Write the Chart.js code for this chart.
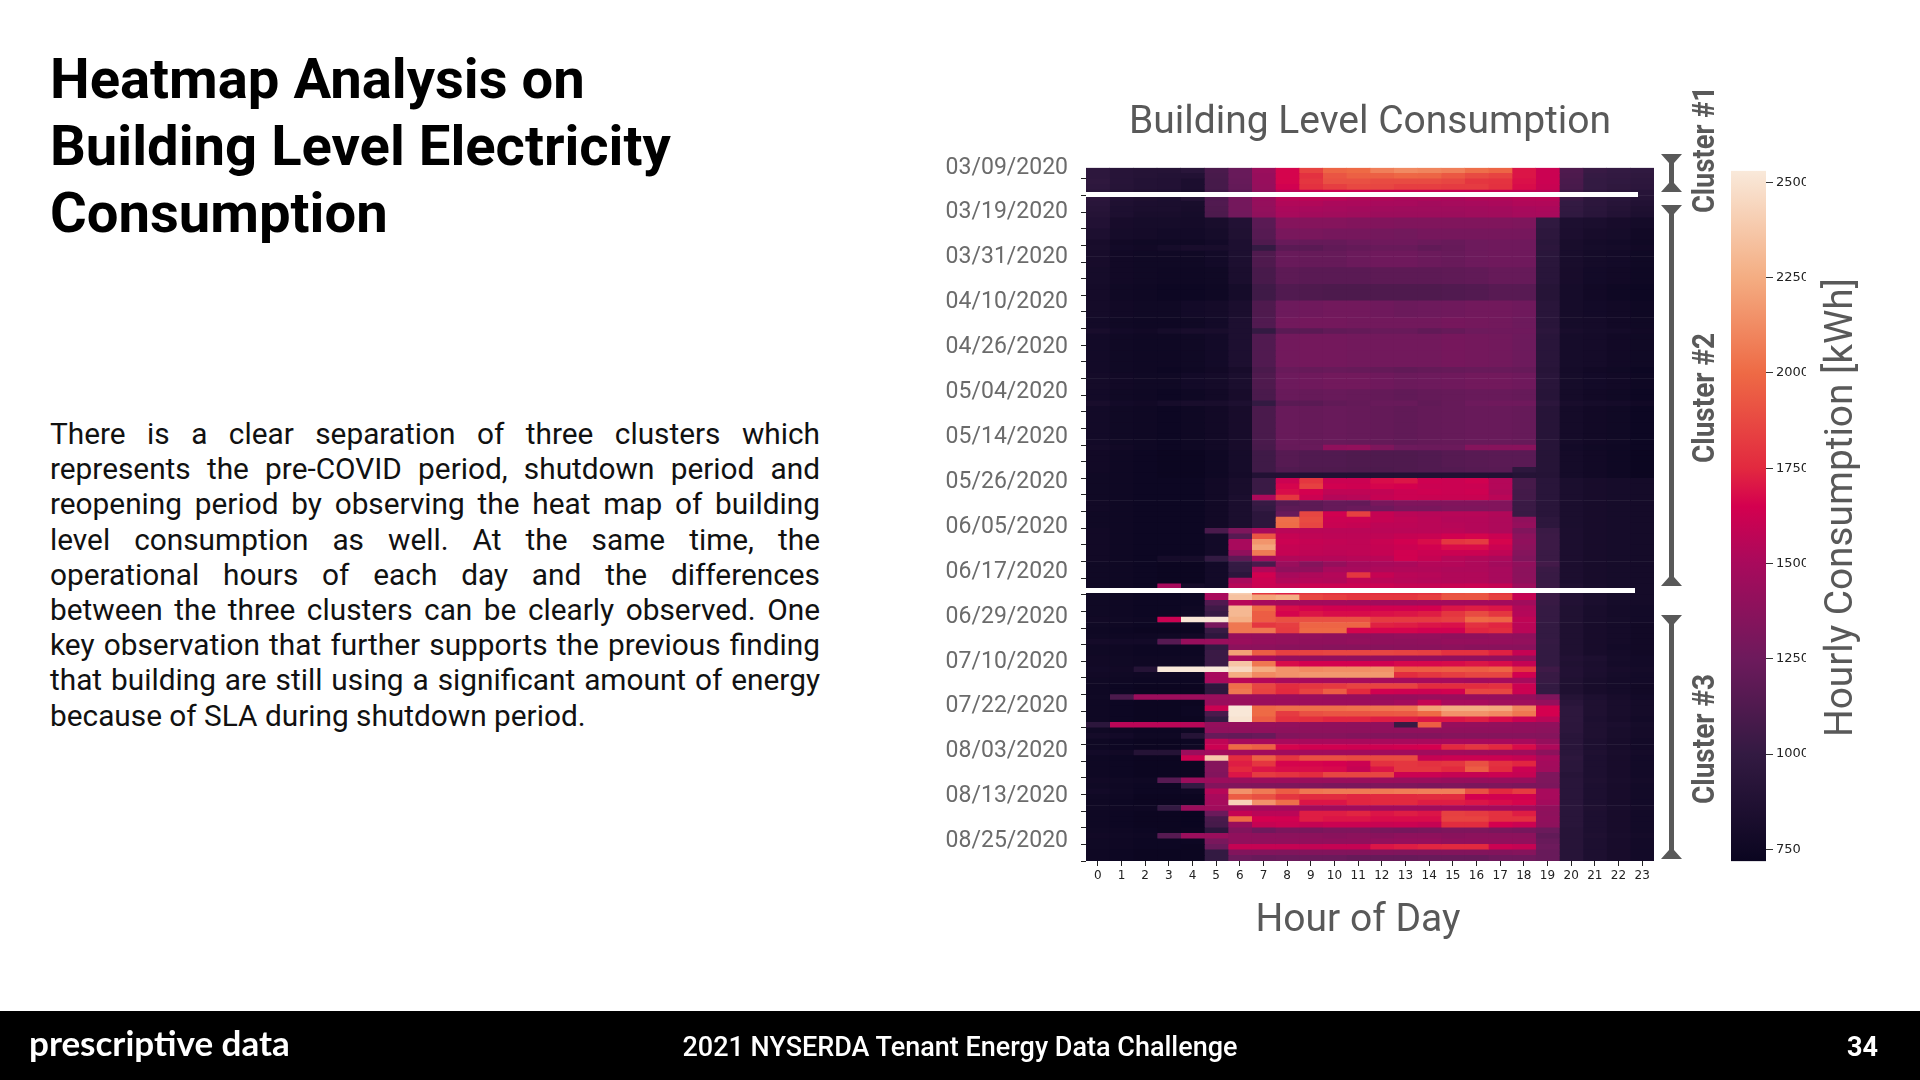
<!DOCTYPE html>
<html>
<head>
<meta charset="utf-8">
<title>Heatmap Analysis on Building Level Electricity Consumption</title>
<script src="https://cdn.jsdelivr.net/npm/chart.js@4"></script>
<style>
  html, body { margin: 0; padding: 0; background: #fff; }
  #slide { position: relative; width: 1920px; height: 1080px; overflow: hidden; font-family: Roboto, sans-serif; }
  #heading { position: absolute; left: 50px; top: 46px; font-size: 56.2px; font-weight: 700; line-height: 67px; color: #000; }
  #body { position: absolute; left: 50px; top: 416px; width: 770px; font-size: 29.8px; line-height: 35.2px; color: #111; }
  #body div { text-align: justify; text-align-last: justify; }
  #body div:last-child { text-align-last: left; }
  #footer { position: absolute; left: 0; top: 1011px; width: 1920px; height: 69px; background: #000; color: #fff; }
  #logo { position: absolute; left: 29px; top: 10px; font-family: Lato, sans-serif; font-size: 35px; font-weight: 700; }
  #event { position: absolute; left: 0; width: 1920px; top: 20px; text-align: center; font-size: 27px; font-weight: 500; }
  #page { position: absolute; left: 1847px; top: 20px; font-size: 27px; font-weight: 700; }
  #heatChart { position: absolute; left: 930px; top: 90px; filter: blur(0.5px); }
  #barChart { position: absolute; left: 1725px; top: 160px; }
  #notes { position: absolute; left: 0; top: 0; }
  #notes text { font-family: Roboto, sans-serif; fill: #595959; }
</style>
</head>
<body>
<div id="slide">
  <div id="heading">Heatmap Analysis on<br>Building Level Electricity<br>Consumption</div>
  <div id="body">
    <div>There is a clear separation of three clusters which</div>
    <div>represents the pre-COVID period, shutdown period and</div>
    <div>reopening period by observing the heat map of building</div>
    <div>level consumption as well. At the same time, the</div>
    <div>operational hours of each day and the differences</div>
    <div>between the three clusters can be clearly observed. One</div>
    <div>key observation that further supports the previous finding</div>
    <div>that building are still using a significant amount of energy</div>
    <div>because of SLA during shutdown period.</div>
  </div>
  <canvas id="heatChart" width="760" height="860"></canvas>
  <canvas id="barChart" width="81" height="712"></canvas>
  <svg id="notes" width="1920" height="1080">
    <rect x="1086" y="192" width="552" height="5" fill="#fff"/>
    <rect x="1086" y="588" width="549" height="5" fill="#fff"/>
    <g fill="#595959">
      <path d="M1661 154H1682L1674 163V183L1682 192H1661L1669 183V163Z"/>
      <path d="M1661 205H1682L1674 214V577L1682 586H1661L1669 577V214Z"/>
      <path d="M1661 615H1682L1674 624V850L1682 859H1661L1669 850V624Z"/>
    </g>
    <text transform="translate(1714,213) rotate(-90)" font-size="31" font-weight="700" textLength="127" lengthAdjust="spacingAndGlyphs">Cluster #1</text>
    <text transform="translate(1714,463) rotate(-90)" font-size="31" font-weight="700" textLength="130" lengthAdjust="spacingAndGlyphs">Cluster #2</text>
    <text transform="translate(1714,804) rotate(-90)" font-size="31" font-weight="700" textLength="130" lengthAdjust="spacingAndGlyphs">Cluster #3</text>
    <text transform="translate(1852,737) rotate(-90)" font-size="39" textLength="459" lengthAdjust="spacingAndGlyphs">Hourly Consumption [kWh]</text>
    <text x="1358" y="931" font-size="39" text-anchor="middle">Hour of Day</text>
  </svg>
  <div id="footer">
    <div id="logo">prescriptive data</div>
    <div id="event">2021 NYSERDA Tenant Energy Data Challenge</div>
    <div id="page">34</div>
  </div>
</div>
<script>
// dates pasted next to the heatmap, one label every 8 rows
const dateLabels = ["03/09/2020", "03/19/2020", "03/31/2020", "04/10/2020", "04/26/2020", "05/04/2020", "05/14/2020", "05/26/2020",
  "06/05/2020", "06/17/2020", "06/29/2020", "07/10/2020", "07/22/2020", "08/03/2020", "08/13/2020", "08/25/2020"];
const hourLabels = ["0","1","2","3","4","5","6","7","8","9","10","11","12","13","14","15","16","17","18","19","20","21","22","23"];
const colorbarTicks = [750, 1000, 1250, 1500, 1750, 2000, 2250, 2500];
const colorbarRange = [719, 2530];

// colour map
const cmapValues = [719, 750, 1000, 1250, 1500, 1650, 1750, 2000, 2250, 2530];
const cmapColors = ["#0a0520", "#0f0824", "#331a42", "#6d1a5c", "#a80a5c", "#d4004f", "#e2293f", "#ee6a45", "#f4ad82", "#f9e9da"];

// repeated rows of the shutdown period, kWh per hour 0..23
const shutBright = [880,810,800,800,790,820,880,1170,1350,1350,1350,1340,1340,1330,1330,1330,1330,1330,1320,980,850,830,810,790];
const shutHigh   = [850,800,790,780,780,800,870,1150,1300,1300,1290,1290,1280,1270,1290,1290,1290,1290,1290,960,840,810,800,770];
const shutDark   = [820,780,770,800,820,820,850,1000,1170,1170,1200,1210,1230,1230,1200,1220,1250,1260,1260,950,820,800,790,770];
const shutMid    = [810,770,760,760,760,780,850,1120,1230,1220,1220,1240,1260,1260,1240,1230,1250,1260,1260,940,820,790,780,760];
const shutDim    = [800,770,760,750,750,760,830,1090,1180,1170,1170,1170,1180,1180,1180,1190,1200,1220,1220,930,810,780,770,750];
const shutDimmer = [790,760,750,740,740,750,800,1050,1130,1120,1110,1110,1120,1120,1120,1130,1140,1160,1160,910,800,770,750,740];
const shutPlain  = [790,770,760,760,780,790,830,1120,1250,1260,1270,1270,1260,1240,1250,1260,1270,1270,1260,930,800,780,770,750];
const shutPlain2 = [780,760,750,750,760,780,850,1130,1270,1280,1280,1270,1270,1270,1270,1290,1280,1270,1250,930,800,790,770,760];
const shutSoft   = [780,760,750,740,750,770,810,1100,1230,1220,1230,1220,1210,1200,1210,1220,1230,1230,1220,920,790,770,760,740];
const shutBand   = [790,770,750,740,750,770,810,1090,1220,1230,1400,1410,1320,1250,1240,1240,1350,1360,1370,920,780,760,750,740];
const shutLate   = [770,750,740,730,730,750,800,1050,1150,1130,1130,1120,1120,1120,1130,1150,1160,1170,1170,910,790,770,750,730];
const shutLateEnd = [770,750,740,730,730,750,800,1050,1130,1120,1120,1110,1110,1120,1130,1140,1150,1160,960,910,790,770,750,730];
const shutGap    = [760,750,740,730,730,750,790,880,880,880,880,880,880,880,880,880,880,880,900,900,790,770,750,730];

// one line per day, top to bottom
const heatRows = [
  [960,920,900,900,930,1100,1230,1440,1660,1850,1980,2000,2080,2120,2100,2080,2020,1980,1700,1620,1120,1020,1000,980],
  [960,920,900,890,880,1090,1230,1430,1660,1780,1920,1960,1960,1990,1980,1930,1880,1850,1700,1620,1110,1010,990,970],
  [970,920,890,880,840,1080,1220,1430,1660,1800,1900,1900,1880,1880,1880,1860,1800,1790,1690,1620,1100,1000,980,960],
  [960,910,890,880,840,1080,1210,1420,1640,1780,1830,1870,1860,1830,1830,1820,1820,1780,1680,1610,1090,1000,970,950],
  [940,900,870,860,820,1060,1180,1400,1560,1600,1620,1620,1600,1600,1600,1600,1600,1600,1580,1560,1050,980,950,920],
  [950,880,860,850,900,1130,1290,1430,1560,1570,1560,1530,1530,1510,1520,1510,1530,1530,1550,1560,1030,960,940,900],
  [930,860,840,830,820,1130,1280,1420,1530,1530,1510,1510,1500,1500,1480,1490,1500,1510,1530,1530,1000,950,920,880],
  [920,850,830,830,810,1120,1280,1410,1510,1500,1490,1480,1470,1460,1460,1460,1470,1480,1500,1510,990,940,900,860],
  [900,850,820,820,800,1110,1270,1400,1500,1480,1470,1460,1450,1450,1450,1450,1460,1470,1490,1500,980,930,890,850],
  shutBright, shutBright, shutHigh, shutHigh, shutMid, shutDark, shutMid, shutMid, shutMid, shutDim, shutDim, shutDim,
  shutDimmer, shutDimmer, shutDimmer, shutPlain, shutPlain, shutPlain, shutPlain2, shutPlain2, shutDark, shutPlain2, shutPlain2, shutPlain2,
  shutPlain2, shutPlain2, shutPlain2, shutSoft, shutPlain, shutPlain, shutPlain, shutSoft, shutSoft, shutDark, shutSoft, shutSoft,
  shutSoft, shutSoft, shutSoft, shutSoft, shutSoft, shutBand, shutLate, shutLate, shutLate, shutLateEnd, shutGap,
  [760,750,740,740,740,770,820,1030,1620,1800,1620,1620,1680,1700,1630,1620,1640,1540,1080,930,830,810,800,790],
  [760,750,740,740,740,770,820,1030,1660,1840,1640,1630,1660,1650,1620,1620,1620,1540,1080,930,830,810,800,790],
  [760,750,740,740,740,770,820,1030,1680,1650,1580,1580,1590,1620,1630,1620,1630,1530,1070,930,830,810,800,790],
  [760,750,740,740,740,770,830,1520,1800,1620,1540,1550,1600,1620,1610,1610,1610,1560,1070,930,830,810,800,790],
  [770,750,740,740,740,770,830,1020,1150,1180,1220,1210,1300,1330,1330,1340,1340,1340,1030,930,830,810,800,790],
  [770,750,740,740,740,770,830,1000,1180,1180,1220,1240,1260,1300,1300,1320,1320,1340,1030,930,830,810,800,790],
  [760,750,740,740,740,770,830,950,1230,1860,1640,1840,1600,1560,1550,1550,1550,1530,1020,930,830,810,800,790],
  [760,750,740,740,740,770,830,950,2020,1880,1620,1620,1600,1580,1560,1540,1540,1520,1400,960,830,810,800,790],
  [760,750,740,740,740,770,830,950,2010,1860,1610,1600,1570,1570,1560,1550,1540,1520,1420,960,830,810,800,790],
  [770,750,740,740,740,1100,1320,1500,1560,1560,1560,1560,1560,1560,1560,1560,1540,1520,1330,1030,840,810,800,790],
  [770,750,740,740,740,780,1150,1920,1600,1580,1570,1570,1580,1600,1610,1640,1660,1620,1380,1040,840,810,800,790],
  [770,750,740,740,740,780,1500,2160,1620,1600,1590,1580,1610,1640,1680,1800,1820,1660,1400,1040,840,810,800,790],
  [770,750,740,740,740,780,1500,2220,1600,1590,1580,1580,1600,1620,1640,1680,1680,1620,1380,1040,840,810,800,790],
  [770,750,740,740,740,780,1400,2060,1600,1580,1570,1580,1600,1640,1620,1620,1620,1580,1350,1030,840,810,800,790],
  [770,750,740,800,800,1000,1180,1480,1530,1540,1540,1550,1560,1640,1600,1550,1530,1510,1330,1030,840,810,800,790],
  [760,750,740,730,730,780,1010,1100,1440,1350,1420,1480,1500,1510,1540,1540,1520,1480,1400,1070,840,810,800,790],
  [760,750,740,730,730,780,1000,1530,1400,1400,1500,1500,1520,1530,1530,1520,1520,1500,1380,1030,840,810,800,790],
  [760,750,740,730,730,780,950,1640,1500,1520,1540,1800,1600,1560,1550,1530,1530,1500,1380,1020,840,810,800,790],
  [760,750,740,730,730,780,1500,1620,1530,1540,1530,1580,1560,1550,1540,1530,1530,1500,1390,1020,840,810,800,790],
  [760,750,740,1500,800,780,1550,1620,1600,1620,1620,1620,1620,1600,1600,1610,1620,1600,1450,1030,860,820,800,790],
  [760,750,740,740,750,1500,2400,1800,1720,1800,1780,1780,1760,1760,1780,1900,1920,1800,1580,1030,880,830,800,790],
  [760,750,740,740,750,1500,2350,2220,2260,1860,1830,1800,1800,1800,1830,1920,1920,1840,1600,1030,880,830,800,790],
  [760,750,740,740,740,1130,1550,1500,1480,1480,1480,1470,1470,1470,1480,1480,1480,1480,1470,1020,880,830,800,790],
  [760,750,740,740,750,1050,2300,2000,1680,1660,1640,1640,1640,1640,1650,1700,1720,1700,1530,1010,870,820,790,780],
  [760,750,740,740,760,1020,2300,1950,1660,1700,1680,1680,1690,1700,1720,1800,1880,1800,1540,1010,870,820,790,780],
  [770,760,750,1620,2520,2520,2260,1950,1900,1900,1900,1900,1820,1820,1820,1840,2000,1980,1580,1010,870,820,800,780],
  [760,750,740,740,740,1300,2050,1800,1830,1980,1980,1980,1730,1720,1700,1690,1780,1740,1560,1000,860,810,790,770],
  [750,740,730,730,730,1020,2050,2050,1820,2000,2000,1660,1660,1660,1640,1640,1740,1760,1560,1000,860,810,790,770],
  [760,750,750,760,770,960,1430,1420,1410,1410,1400,1400,1400,1410,1410,1400,1400,1410,1400,1000,860,810,790,770],
  [790,780,780,1150,1430,1440,1440,1420,1410,1400,1400,1410,1400,1390,1400,1420,1420,1420,1410,1010,860,810,790,770],
  [760,750,740,740,740,1000,1380,1380,1370,1370,1360,1360,1360,1370,1370,1380,1370,1370,1370,1000,860,810,780,770],
  [760,750,740,740,740,1030,2200,1950,1840,1850,1860,1860,1860,1850,1840,1780,1780,1730,1600,1000,860,810,790,770],
  [770,760,750,750,750,1030,1500,1480,1430,1420,1420,1410,1420,1420,1420,1420,1420,1420,1420,1000,880,850,800,780],
  [770,760,750,750,750,1030,2360,2050,1680,1650,1650,1650,1640,1670,1670,1680,1700,1680,1600,1000,870,830,790,780],
  [780,770,900,2530,2530,2530,2450,2250,2150,2120,2130,2130,2140,1950,1950,1960,1950,1980,1800,1050,880,840,810,790],
  [770,760,750,750,750,1500,2250,2120,2150,2170,2170,2170,2170,1760,1800,1830,1860,1860,1640,1020,880,830,800,780],
  [760,750,740,740,740,1500,1560,1540,1500,1500,1490,1490,1490,1490,1490,1490,1480,1490,1490,1020,870,820,790,780],
  [750,740,730,730,730,960,2020,1860,1760,1800,1810,1850,1850,1850,1760,1760,1760,1780,1620,1000,860,810,790,770],
  [750,740,730,730,730,960,2050,1850,1750,1850,1950,1750,1640,1630,1620,1640,1860,1860,1620,1000,860,810,790,770],
  [760,1100,1450,1450,1450,1440,1440,1440,1440,1440,1430,1430,1430,1430,1440,1440,1430,1430,1430,1330,900,850,810,780],
  [750,740,730,730,730,1430,1440,1440,1450,1450,1450,1450,1450,1480,1600,1500,1500,1460,1460,1420,930,860,820,790],
  [750,740,730,730,740,1620,2520,2000,2020,2020,2020,2030,2040,2050,2200,2250,2250,2230,2100,1650,960,860,820,790],
  [750,740,730,730,740,1100,2520,2000,1820,1900,1920,1920,1930,1940,2000,2150,2150,2120,2050,1650,960,860,820,790],
  [750,740,730,730,730,1000,2500,1950,1780,1770,1740,1740,1720,1720,1700,1700,1720,1680,1620,1560,960,850,810,780],
  [950,1560,1560,1560,1550,1420,1420,1420,1410,1400,1400,1390,1400,1020,1950,1430,1420,1410,1400,1400,950,860,830,800],
  [760,750,740,740,750,1400,1400,1400,1390,1390,1390,1390,1400,1400,1400,1400,1400,1400,1400,1380,950,860,820,790],
  [790,780,750,750,900,1220,1210,1230,1340,1350,1350,1340,1340,1340,1340,1350,1350,1350,1350,1350,930,860,820,790],
  [750,740,730,730,740,1580,1500,1500,1500,1500,1500,1500,1500,1500,1500,1500,1500,1500,1500,1420,930,850,810,780],
  [750,740,730,730,750,1620,2000,1960,1660,1640,1640,1630,1630,1640,1650,1750,1800,1750,1680,1520,930,850,810,780],
  [780,770,900,900,1450,1480,1470,1470,1470,1470,1470,1470,1470,1470,1470,1470,1460,1460,1460,1380,940,860,820,790],
  [750,740,730,730,1630,2380,1760,1960,1800,1900,1900,1880,1880,1880,1600,1620,1620,1620,1600,1500,960,850,810,780],
  [750,740,730,730,730,1350,1720,1800,1660,1660,1650,1620,1780,1800,1780,1800,1900,1780,1740,1480,940,850,810,780],
  [750,740,730,730,730,1350,1750,1700,1680,1680,1670,1600,1700,1800,1800,1750,1950,1760,1620,1470,940,850,810,780],
  [750,740,730,730,730,1340,1700,1820,1790,1760,1860,1860,1860,1620,1620,1600,1600,1620,1600,1320,920,850,810,780],
  [770,760,750,1150,1450,1450,1440,1450,1450,1440,1440,1440,1450,1440,1440,1430,1430,1430,1430,1320,930,860,820,790],
  [760,750,740,740,1000,1340,1340,1330,1320,1320,1310,1310,1320,1320,1310,1320,1310,1320,1310,1310,930,850,810,780],
  [780,760,740,740,750,1550,2150,2060,1950,2050,2060,2060,2060,2070,2080,2080,1900,1750,1820,1500,930,850,810,780],
  [760,750,730,730,730,1500,1950,1900,1800,1760,1760,1740,1750,1750,1760,1760,1650,1640,1640,1500,930,850,810,780],
  [750,740,730,730,730,1490,2420,2150,2020,1700,1700,1740,1750,1750,1720,1720,1700,1680,1660,1480,930,850,810,780],
  [760,750,750,1000,1450,1470,1480,1480,1480,1470,1470,1470,1470,1470,1470,1480,1480,1480,1480,1400,940,860,820,790],
  [750,740,730,730,720,1240,1600,1560,1560,1720,1720,1740,1700,1720,1700,1840,1820,1780,1720,1390,930,850,810,780],
  [750,740,730,730,720,1100,2000,1650,1640,1720,1700,1700,1680,1680,1680,1850,1850,1780,1780,1400,930,850,810,780],
  [750,740,730,730,720,1080,1430,1600,1620,1600,1620,1620,1610,1620,1600,1760,1760,1650,1620,1390,930,850,810,780],
  [760,750,740,730,730,950,1340,1260,1310,1300,1320,1320,1300,1290,1300,1320,1320,1300,1290,1240,920,850,810,780],
  [770,760,750,1150,1440,1440,1400,1390,1380,1380,1370,1380,1370,1390,1390,1370,1380,1380,1380,1200,920,860,820,790],
  [760,750,740,740,740,1300,1400,1400,1400,1400,1400,1400,1410,1420,1420,1400,1400,1400,1400,1230,920,850,810,780],
  [760,750,740,740,730,1240,1600,1600,1600,1590,1600,1600,1700,1720,1740,1750,1750,1620,1600,1250,920,850,810,780],
  [750,740,730,730,730,1000,1340,1340,1330,1340,1340,1340,1340,1330,1330,1340,1340,1340,1350,1230,920,850,810,780],
  [750,740,730,730,730,1000,1250,1230,1240,1240,1240,1220,1220,1220,1230,1230,1230,1260,1260,1230,920,850,810,780],
];

function hexToRgb(hex) {
  return [1, 3, 5].map((i) => parseInt(hex.slice(i, i + 2), 16));
}

function colorFor(value) {
  const last = cmapValues.length - 1;
  if (value <= cmapValues[0]) return cmapColors[0];
  if (value >= cmapValues[last]) return cmapColors[last];
  let i = 0;
  while (value > cmapValues[i + 1]) i++;
  const t = (value - cmapValues[i]) / (cmapValues[i + 1] - cmapValues[i]);
  const a = hexToRgb(cmapColors[i]);
  const b = hexToRgb(cmapColors[i + 1]);
  return "rgb(" + a.map((c, k) => Math.round(c + (b[k] - c) * t)).join(",") + ")";
}

Chart.defaults.font.family = "Roboto, sans-serif";
Chart.defaults.animation = false;
Chart.defaults.responsive = false;
Chart.defaults.plugins.legend.display = false;
Chart.defaults.plugins.tooltip.enabled = false;

// each hour is one stacked dataset of one-hour-long bars, coloured by consumption
const hourDatasets = hourLabels.map((hour, h) => ({
  label: hour,
  data: heatRows.map(() => 1),
  backgroundColor: heatRows.map((row) => colorFor(row[h])),
  borderWidth: 0,
  barPercentage: 1,
  categoryPercentage: 1,
}));

new Chart(document.getElementById("heatChart"), {
  type: "bar",
  data: { labels: heatRows.map((_, i) => i), datasets: hourDatasets },
  options: {
    indexAxis: "y",
    layout: { padding: { left: 0, right: 36, top: 0, bottom: 0 } },
    plugins: {
      title: {
        display: true,
        text: "Building Level Consumption",
        color: "#595959",
        fullSize: false,
        font: { size: 39, weight: "normal" },
        padding: { top: 10, bottom: 21 },
      },
    },
    scales: {
      x: {
        type: "linear",
        stacked: true,
        min: 0,
        max: 24,
        afterBuildTicks(scale) {
          scale.ticks = hourLabels.map((_, i) => ({ value: i + 0.5 }));
        },
        afterFit(scale) { scale.height = 89; },
        grid: { drawOnChartArea: false, drawTicks: true, tickLength: 5, tickColor: "#222" },
        border: { display: false },
        ticks: {
          autoSkip: false,
          maxRotation: 0,
          padding: 3,
          color: "#222",
          font: { family: "DejaVu Sans", size: 12 },
          callback: (value) => hourLabels[Math.floor(value)],
        },
      },
      y: {
        stacked: true,
        weight: 0,
        afterBuildTicks(scale) {
          scale.ticks = scale.ticks.filter((_, i) => i % 3 === 0);
        },
        afterFit(scale) { scale.width = 8; },
        grid: { drawOnChartArea: false, drawTicks: true, tickLength: 5, tickColor: "#222" },
        border: { display: false },
        ticks: { autoSkip: false, padding: 0, callback: () => "" },
      },
      yDates: {
        type: "linear",
        axis: "y",
        position: "left",
        reverse: true,
        offset: false,
        weight: 1,
        min: 0,
        max: 15.435,
        afterBuildTicks(scale) {
          scale.ticks = dateLabels.map((_, i) => ({ value: i }));
        },
        afterFit(scale) { scale.width = 148; },
        grid: { display: false },
        border: { display: false },
        ticks: {
          autoSkip: false,
          padding: 2,
          color: "#6b6b6b",
          font: { size: 23 },
          callback: (value) => dateLabels[value],
        },
      },
    },
  },
});

new Chart(document.getElementById("barChart"), {
  type: "bar",
  data: {
    labels: ["kWh"],
    datasets: [{
      data: [colorbarRange],
      borderWidth: 0,
      barPercentage: 1,
      categoryPercentage: 1,
      backgroundColor(context) {
        const { ctx, chartArea } = context.chart;
        if (!chartArea) return null;
        const gradient = ctx.createLinearGradient(0, chartArea.bottom, 0, chartArea.top);
        const span = colorbarRange[1] - colorbarRange[0];
        cmapValues.forEach((value, i) => {
          gradient.addColorStop((value - colorbarRange[0]) / span, cmapColors[i]);
        });
        return gradient;
      },
    }],
  },
  options: {
    layout: { padding: { left: 6, right: 0, top: 8, bottom: 9 } },
    scales: {
      x: { display: false },
      y: {
        position: "right",
        min: colorbarRange[0],
        max: colorbarRange[1],
        afterBuildTicks(scale) {
          scale.ticks = colorbarTicks.map((value) => ({ value }));
        },
        afterFit(scale) { scale.width = 40; },
        grid: { drawOnChartArea: false, drawTicks: true, tickLength: 7, tickColor: "#333" },
        border: { display: false },
        ticks: { autoSkip: false, padding: 3, color: "#222", font: { family: "DejaVu Sans", size: 13 }, callback: (value) => String(value) },
      },
    },
  },
});
</script>
</body>
</html>
